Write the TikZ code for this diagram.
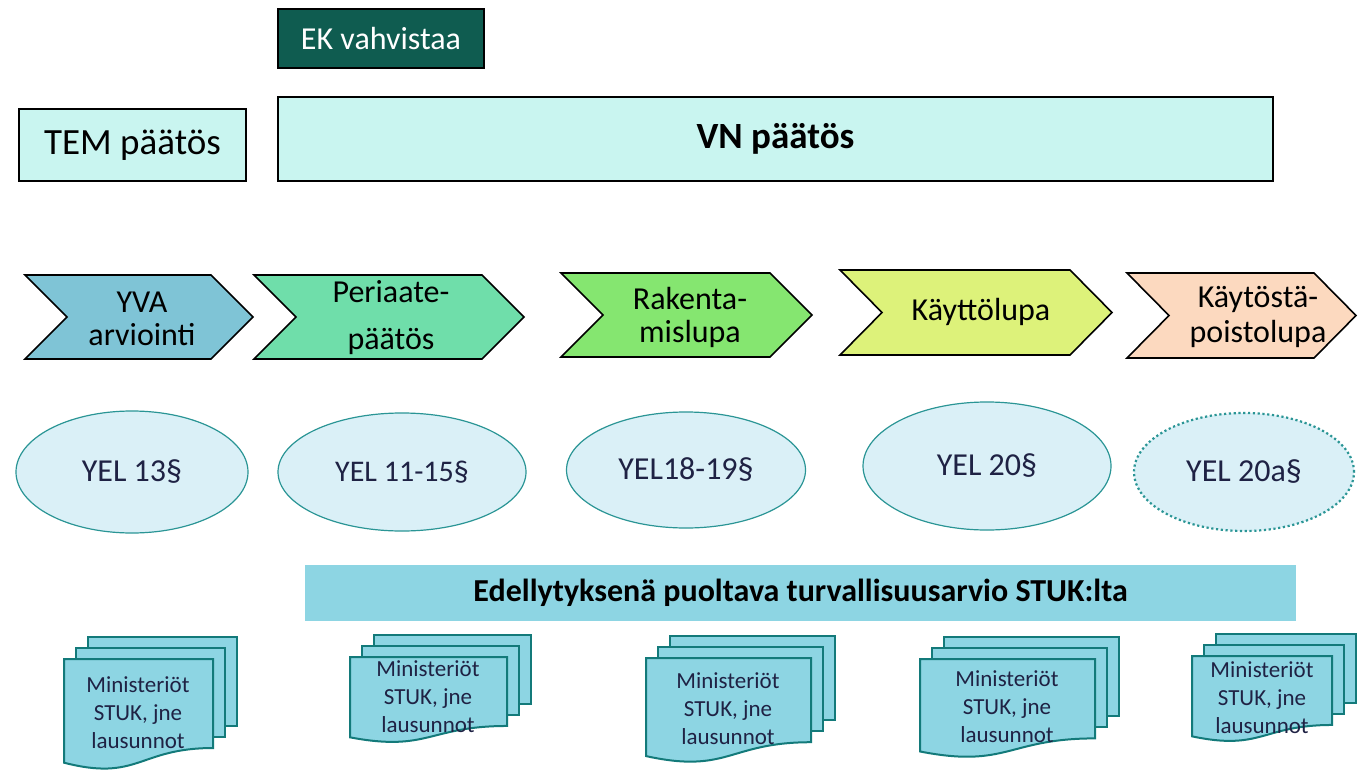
\documentclass[tikz,border=0pt]{standalone}
\usepackage{fontspec}
\setmainfont{Carlito}
\usetikzlibrary{shapes.geometric}

\definecolor{ekgreen}{HTML}{0F5C50}
\definecolor{paleaqua}{HTML}{C9F5F0}
\definecolor{yvablue}{HTML}{7FC4D6}
\definecolor{periaategreen}{HTML}{6FDEAA}
\definecolor{rakgreen}{HTML}{85E670}
\definecolor{kaylime}{HTML}{DDF27A}
\definecolor{poistopeach}{HTML}{FCD9BF}
\definecolor{ellfill}{HTML}{DAF0F7}
\definecolor{elledge}{HTML}{2A9595}
\definecolor{bannerblue}{HTML}{8DD5E3}
\definecolor{pageedge}{HTML}{137A7A}
\definecolor{navytext}{HTML}{1F2244}

\tikzset{
  topbox/.style={draw=black, line width=1pt, inner sep=0pt},
  stepshape/.style={draw=black, line width=0.8pt, line join=miter},
  steptext/.style={align=center, font=\fontsize{16}{16.5}\selectfont},
  lawell/.style={ellipse, draw=elledge, line width=0.6pt, fill=ellfill, inner sep=0pt, text=navytext, font=\fontsize{16}{18}\selectfont},
  docpage/.style={draw=pageedge, line width=1pt, fill=bannerblue},
  doctext/.style={align=center, text=navytext, font=\fontsize{11.5}{14}\selectfont}
}

% chevron from (x1,y1) to (x2,y2), notch depth 42
\def\chevron[#1](#2,#3)(#4,#5){\draw[#1] (#2,#3) -- ({#4-42},#3) -- (#4,{(#3+#5)/2}) -- ({#4-42},#5) -- (#2,#5) -- ({#2+42},{(#3+#5)/2}) -- cycle;}
% stack of three pages, front page top-left (x,y), width w, height h
\def\docstack(#1,#2)(#3,#4){%
  \draw[docpage] ({#1+24},{#2-22}) rectangle ({#1+#3+24},{#2-22+0.802*#4});
  \draw[docpage] ({#1+12},{#2-11}) rectangle ({#1+#3+12},{#2-11+0.802*#4});
  \draw[docpage] (#1,#2) -- ({#1+#3},#2) -- ({#1+#3},{#2+0.802*#4}) .. controls ({#1+0.5*#3},{#2+0.802*#4}) and ({#1+0.5*#3},{#2+1.107*#4}) .. (#1,{#2+0.934*#4}) -- cycle;}

\begin{document}
\begin{tikzpicture}[x=0.5pt, y=-0.5pt]
	%%%%% START %%%%%
	\useasboundingbox (0,0) rectangle (1363,770);
	
	\node[topbox, fill=ekgreen, text=white, minimum width=103pt, minimum height=29.5pt, font=\fontsize{16}{19}\selectfont] (ek) at (381,38.5) {EK vahvistaa};
	\node[topbox, fill=paleaqua, minimum width=113.5pt, minimum height=36pt, font=\fontsize{18.5}{22}\selectfont] (tem) at (132.5,145) {TEM päätös};
	\node[topbox, fill=paleaqua, minimum width=497.5pt, minimum height=42pt, font=\bfseries\fontsize{18.5}{22}\selectfont] (vn) at (775.5,139) {VN päätös};
	
	\chevron[stepshape, fill=yvablue](25,275)(253,359);
	\chevron[stepshape, fill=periaategreen](254,275)(524,359);
	\chevron[stepshape, fill=rakgreen](561,273)(812,357);
	\chevron[stepshape, fill=kaylime](840,270)(1112,355);
	\chevron[stepshape, fill=poistopeach](1127,273)(1356,358);
	
	\node[steptext] (yva) at (142,319) {YVA\\arviointi};
	\node[steptext, font=\fontsize{16}{23.5}\selectfont] (periaate) at (391,318) {Periaate-\\päätös};
	\node[steptext] (rakenta) at (690,317) {Rakenta-\\mislupa};
	\node[steptext] (kaytto) at (981,312) {Käyttölupa};
	\node[steptext, font=\fontsize{16}{17.5}\selectfont] (poisto) at (1258,317) {Käytöstä-\\poistolupa};
	
	\node[lawell, minimum width=116pt, minimum height=61pt] (yel13) at (132,472) {YEL 13§};
	\node[lawell, minimum width=124pt, minimum height=59pt, font=\fontsize{15}{18}\selectfont] (yel11) at (402,472) {YEL 11-15§};
	\node[lawell, minimum width=119.5pt, minimum height=58pt] (yel18) at (686,470) {YEL18-19§};
	\node[lawell, minimum width=124pt, minimum height=64pt] (yel20) at (987,466) {YEL 20§};
	\node[lawell, minimum width=110pt, minimum height=59pt, line width=1.1pt, dash pattern=on 1.1pt off 1.3pt] (yel20a) at (1244,472) {YEL 20a§};
	
	\node[fill=bannerblue, minimum width=495.5pt, minimum height=28pt, inner sep=0pt, font=\bfseries\fontsize{16}{19}\selectfont] (stuk) at (800.5,593) {Edellytyksenä puoltava turvallisuusarvio STUK:lta};
	
	\docstack(64,659)(149,111)
	\docstack(350,657)(157,86)
	\docstack(646,658)(165,105)
	\docstack(920,659)(175,99)
	\docstack(1192,656)(140,86)
	
	\node[doctext] (lausunto1) at (138,713) {Ministeriöt\\STUK, jne\\lausunnot};
	\node[doctext] (lausunto2) at (428,697) {Ministeriöt\\STUK, jne\\lausunnot};
	\node[doctext] (lausunto3) at (728,709) {Ministeriöt\\STUK, jne\\lausunnot};
	\node[doctext] (lausunto4) at (1007,707) {Ministeriöt\\STUK, jne\\lausunnot};
	\node[doctext] (lausunto5) at (1262,698) {Ministeriöt\\STUK, jne\\lausunnot};
	%%%%% END %%%%%
\end{tikzpicture}
\end{document}
